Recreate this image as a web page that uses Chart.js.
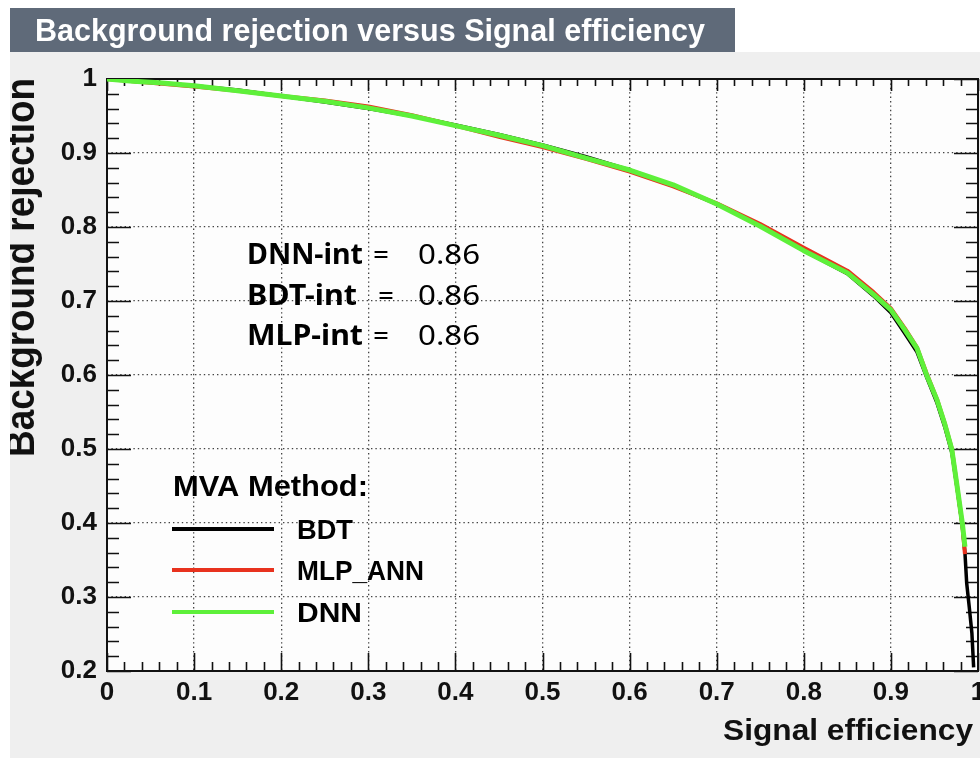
<!DOCTYPE html>
<html>
<head>
<meta charset="utf-8">
<title>Background rejection versus Signal efficiency</title>
<script src="https://cdn.jsdelivr.net/npm/chart.js@4/dist/chart.umd.min.js"></script>
<style>
  html, body { margin: 0; padding: 0; background: #ffffff; overflow: hidden; }
  #wrap { width: 980px; height: 758px; }
</style>
</head>
<body>
<div id="wrap"><canvas id="roc" width="980" height="758"></canvas></div>
<script>
// ROC curves: signal efficiency (x) against background rejection (y)
const bdtEff = [0, 0.01, 0.03, 0.06, 0.10, 0.15, 0.20, 0.25, 0.30, 0.35, 0.40, 0.45, 0.50, 0.55, 0.60, 0.65, 0.70, 0.75, 0.80, 0.85, 0.88, 0.90, 0.916, 0.93, 0.941, 0.953, 0.962, 0.970, 0.975, 0.982, 0.985, 0.987, 0.990, 0.993, 0.995];
const bdtRej = [1.000, 0.999, 0.997, 0.995, 0.991, 0.985, 0.977, 0.969, 0.960, 0.950, 0.938, 0.925, 0.911, 0.895, 0.877, 0.856, 0.831, 0.802, 0.768, 0.737, 0.707, 0.684, 0.656, 0.631, 0.597, 0.562, 0.529, 0.495, 0.455, 0.396, 0.360, 0.319, 0.286, 0.251, 0.205];

const mlpEff = [0, 0.01, 0.03, 0.06, 0.10, 0.15, 0.20, 0.25, 0.30, 0.35, 0.40, 0.45, 0.50, 0.55, 0.60, 0.65, 0.70, 0.75, 0.80, 0.85, 0.88, 0.90, 0.916, 0.93, 0.941, 0.953, 0.962, 0.970, 0.975, 0.982, 0.985];
const mlpRej = [1.000, 0.999, 0.997, 0.994, 0.990, 0.984, 0.977, 0.971, 0.963, 0.951, 0.937, 0.922, 0.908, 0.892, 0.875, 0.855, 0.832, 0.804, 0.772, 0.741, 0.712, 0.690, 0.663, 0.637, 0.602, 0.567, 0.534, 0.500, 0.458, 0.398, 0.358];

const dnnEff = [0, 0.01, 0.03, 0.06, 0.10, 0.15, 0.20, 0.25, 0.30, 0.35, 0.40, 0.45, 0.50, 0.55, 0.60, 0.65, 0.70, 0.75, 0.80, 0.85, 0.88, 0.90, 0.916, 0.93, 0.941, 0.953, 0.962, 0.970, 0.975, 0.982, 0.985];
const dnnRej = [1.000, 0.999, 0.997, 0.995, 0.991, 0.984, 0.977, 0.970, 0.961, 0.950, 0.937, 0.924, 0.910, 0.893, 0.877, 0.857, 0.831, 0.801, 0.768, 0.738, 0.709, 0.688, 0.661, 0.636, 0.600, 0.566, 0.533, 0.499, 0.458, 0.400, 0.368];

// Integrated ROC areas printed on the plot
const intNames = ['DNN-int', 'BDT-int', 'MLP-int'];
const intValues = [0.86, 0.86, 0.86];

// Legend entries
const methodNames = ['BDT', 'MLP_ANN', 'DNN'];
const methodColors = ['#000000', '#e8321e', '#5ef03a'];

// Axis tick labels
const xTickLabels = ['0', '0.1', '0.2', '0.3', '0.4', '0.5', '0.6', '0.7', '0.8', '0.9', '1'];
const yTickLabels = ['0.2', '0.3', '0.4', '0.5', '0.6', '0.7', '0.8', '0.9', '1'];

const SANS = '"Liberation Sans", Arial, Helvetica, sans-serif';
const NOTO = '"Noto Sans", "Open Sans", sans-serif';

function pairs(xs, ys) {
  return xs.map((x, i) => ({ x: x, y: ys[i] }));
}

// Draw text squeezed/stretched horizontally to a given width
function fitText(ctx, text, x, y, font, width, align) {
  ctx.save();
  ctx.font = font;
  const w = ctx.measureText(text).width;
  ctx.translate(x, y);
  ctx.scale(width / w, 1);
  ctx.textAlign = align || 'left';
  ctx.textBaseline = 'alphabetic';
  ctx.fillText(text, 0, 0);
  ctx.restore();
}

const backdrop = {
  id: 'backdrop',
  beforeDraw(chart) {
    const ctx = chart.ctx, a = chart.chartArea;
    ctx.save();
    ctx.fillStyle = '#ffffff';
    ctx.fillRect(0, 0, chart.width, chart.height);
    ctx.fillStyle = '#efefef';
    ctx.fillRect(10, 52, chart.width - 10, chart.height - 52);
    // title bar
    ctx.fillStyle = '#5f6a79';
    ctx.fillRect(10, 8, 725, 44);
    ctx.fillStyle = '#ffffff';
    fitText(ctx, 'Background rejection versus Signal efficiency', 35, 41, 'bold 31px ' + SANS, 670, 'left');
    // pad
    ctx.fillStyle = '#fdfdfd';
    ctx.fillRect(a.left, a.top, a.right - a.left, a.bottom - a.top);
    // axis titles
    ctx.fillStyle = '#111111';
    fitText(ctx, 'Signal efficiency', 973, 740, 'bold 30px ' + SANS, 250, 'right');
    ctx.beginPath();
    ctx.rect(10, 52, 100, chart.height - 52);
    ctx.clip();
    ctx.translate(34, 457);
    ctx.rotate(-Math.PI / 2);
    fitText(ctx, 'Background rejection', 0, 0, 'bold 40px ' + SANS, 379, 'left');
    ctx.restore();
  }
};

const frameTicks = {
  id: 'frameTicks',
  beforeDatasetsDraw(chart) {
    const ctx = chart.ctx, a = chart.chartArea;
    const xs = chart.scales.x, ys = chart.scales.y;
    ctx.save();
    ctx.strokeStyle = '#111111';
    ctx.lineWidth = 1.6;
    ctx.beginPath();
    for (let i = 0; i <= 50; i++) {
      const px = Math.round(xs.getPixelForValue(i / 50)) + 0.5;
      const major = i % 5 === 0;
      ctx.moveTo(px, a.bottom);
      ctx.lineTo(px, a.bottom - (major ? 18 : 9));
      ctx.moveTo(px, a.top);
      ctx.lineTo(px, a.top + (major ? 12 : 7));
    }
    for (let i = 10; i <= 50; i++) {
      const py = Math.round(ys.getPixelForValue(i / 50)) + 0.5;
      const major = i % 5 === 0;
      ctx.moveTo(a.left, py);
      ctx.lineTo(a.left + (major ? 24 : 12), py);
      ctx.moveTo(a.right, py);
      ctx.lineTo(a.right - (major ? 24 : 12), py);
    }
    ctx.stroke();
    ctx.lineWidth = 2;
    ctx.strokeRect(a.left, a.top, a.right - a.left, a.bottom - a.top);
    ctx.restore();
  }
};

const annotations = {
  id: 'annotations',
  afterDatasetsDraw(chart) {
    const ctx = chart.ctx;
    ctx.save();
    ctx.fillStyle = '#000000';
    // integrals
    const labelW = [116, 110, 116];
    const eqX = [373, 378, 373];
    const base = [264, 305, 345];
    intNames.forEach((name, i) => {
      fitText(ctx, name, 247, base[i], 'bold 28px ' + NOTO, labelW[i], 'left');
      ctx.font = '28px ' + NOTO;
      ctx.textAlign = 'left';
      ctx.fillText('=', eqX[i], base[i]);
      fitText(ctx, intValues[i].toFixed(2), 418, base[i], '28px ' + NOTO, 62, 'left');
    });
    // legend
    fitText(ctx, 'MVA Method:', 173, 496, 'bold 29px ' + SANS, 195, 'left');
    const rowY = [529, 570, 612];
    const textW = [56, 127, 65];
    methodNames.forEach((name, i) => {
      ctx.strokeStyle = methodColors[i];
      ctx.lineWidth = 4;
      ctx.beginPath();
      ctx.moveTo(172, rowY[i]);
      ctx.lineTo(274, rowY[i]);
      ctx.stroke();
      ctx.fillStyle = '#000000';
      fitText(ctx, name, 297, rowY[i] + 10, 'bold 28px ' + SANS, textW[i], 'left');
    });
    ctx.restore();
  }
};

const tickFont = { family: SANS, size: 26, weight: 'bold' };

new Chart(document.getElementById('roc'), {
  type: 'line',
  data: {
    datasets: [
      { label: 'DNN', data: pairs(dnnEff, dnnRej), borderColor: methodColors[2], borderWidth: 5, order: 0 },
      { label: 'MLP_ANN', data: pairs(mlpEff, mlpRej), borderColor: methodColors[1], borderWidth: 4, order: 1 },
      { label: 'BDT', data: pairs(bdtEff, bdtRej), borderColor: methodColors[0], borderWidth: 3.5, order: 2 }
    ]
  },
  options: {
    responsive: false,
    devicePixelRatio: 1,
    animation: false,
    layout: { padding: { top: 79, left: 10, right: 2, bottom: 0 } },
    elements: {
      point: { radius: 0, hoverRadius: 0 },
      line: { tension: 0, fill: false, borderJoinStyle: 'round', borderCapStyle: 'butt' }
    },
    plugins: { legend: { display: false }, tooltip: { enabled: false }, title: { display: false } },
    scales: {
      x: {
        type: 'linear', min: 0, max: 1,
        border: { display: false, dash: [1.4, 3] },
        grid: { color: '#444444', lineWidth: 1.3, drawTicks: false },
        ticks: {
          stepSize: 0.1, autoSkip: false, maxRotation: 0, padding: 6,
          color: '#111111', font: tickFont,
          callback: (v, i) => xTickLabels[i]
        },
        afterFit(scale) { scale.height = 87; scale.paddingLeft = 0; scale.paddingRight = 0; }
      },
      y: {
        type: 'linear', min: 0.2, max: 1,
        border: { display: false, dash: [1.4, 3] },
        grid: { color: '#444444', lineWidth: 1.3, drawTicks: false },
        ticks: {
          stepSize: 0.1, autoSkip: false, padding: 10,
          color: '#111111', font: tickFont,
          callback: (v, i) => yTickLabels[i]
        },
        afterFit(scale) { scale.width = 97; scale.paddingTop = 0; scale.paddingBottom = 0; }
      }
    }
  },
  plugins: [backdrop, frameTicks, annotations]
});
</script>
</body>
</html>
